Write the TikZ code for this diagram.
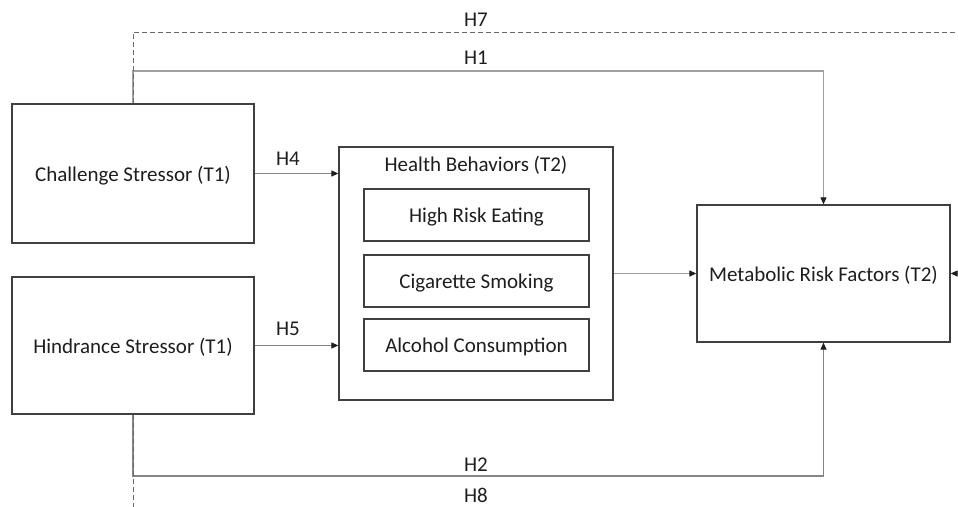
\documentclass[tikz,border=0pt]{standalone}
\usepackage{fontspec}
\setmainfont{Carlito}
\usetikzlibrary{arrows.meta}
\definecolor{txt}{HTML}{1E1E1E}
\definecolor{bord}{HTML}{404040}
\definecolor{lineA}{HTML}{A0A0A0}
\definecolor{lineB}{HTML}{858585}
\definecolor{dashc}{HTML}{6A6A6A}
\tikzset{
  box/.style={draw=bord, line width=1.3pt, fill=white, text=txt, inner sep=0pt, text depth=0pt, font=\fontsize{21}{25}\selectfont},
  lbl/.style={text=txt, inner sep=0pt, font=\fontsize{21}{25}\selectfont},
  conn/.style={draw=lineB, line width=1.1pt},
  tip/.style={-{Triangle[length=7pt,width=6pt,color=txt]}},
  dsh/.style={draw=dashc, line width=1pt, dash pattern=on 5pt off 3pt}
}
\begin{document}
\begin{tikzpicture}[x=1pt,y=-1pt]
\path[use as bounding box] (0,0) rectangle (958,506);
\clip (0,0) rectangle (958,506);
% boxes
\node[box, minimum width=242pt, minimum height=139pt] (chal) at (133,173.5) {Challenge Stressor (T1)};
\node[box, minimum width=242pt, minimum height=137pt] (hind) at (133,345.5) {Hindrance Stressor (T1)};
\node[box, minimum width=274pt, minimum height=253pt] (hb) at (476,273.5) {};
\node[lbl] (hbt) at (476,165) {Health Behaviors (T2)};
\node[box, minimum width=225pt, minimum height=52pt] (eat) at (476.5,215) {High Risk Eating};
\node[box, minimum width=225pt, minimum height=52pt] (smk) at (476.5,281) {Cigarette Smoking};
\node[box, minimum width=225pt, minimum height=52pt] (alc) at (476.5,345) {Alcohol Consumption};
\node[box, minimum width=253pt, minimum height=137pt] (met) at (823.5,273.5) {Metabolic Risk Factors (T2)};
% helper coordinates
\coordinate (h7c) at (975,32);
\coordinate (h1c) at (0,71);
\coordinate (h2c) at (0,476);
\coordinate (h8e) at (133,520);
% H1 and H2 (solid)
\draw[conn, draw=lineA, tip] (chal.north) -- (chal.north |- h1c) -| (met.north);
\draw[conn, tip] (hind.south) -- (hind.south |- h2c) -| (met.south);
% H7 and H8 (dashed)
\draw[dsh, tip] (chal.north) |- (h7c) |- (met.east);
\draw[dsh] (hind.south) -- (h8e);
% H4, H5, mediator
\draw[conn, tip] (chal.east) -- (chal.east -| hb.west);
\draw[conn, tip] (hind.east) -- (hind.east -| hb.west);
\draw[conn, draw=lineA, tip] (hb.east) -- (met.west);
% labels
\node[lbl] (l7) at (476,20) {H7};
\node[lbl] (l1) at (476,58) {H1};
\node[lbl] (l4) at (288,159) {H4};
\node[lbl] (l5) at (288,329) {H5};
\node[lbl] (l2) at (476,465) {H2};
\node[lbl] (l8) at (476,495) {H8};
\end{tikzpicture}
\end{document}
